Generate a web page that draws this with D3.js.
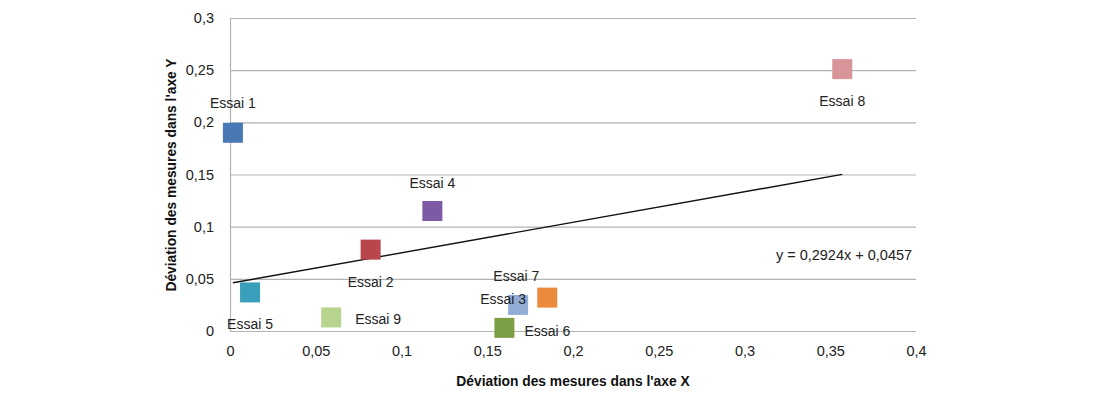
<!DOCTYPE html>
<html><head><meta charset="utf-8">
<script src="https://cdn.jsdelivr.net/npm/d3@7"></script>
<style>body{margin:0;background:#fff}svg{display:block}text{font-family:"Liberation Sans",Arial,sans-serif}</style>
</head><body><svg id="c" width="1112" height="406"></svg>
<script>
const names = ["Essai 1","Essai 2","Essai 3","Essai 4","Essai 5","Essai 6","Essai 7","Essai 8","Essai 9"];
const xValues = [0.0017,0.082,0.168,0.118,0.0117,0.160,0.185,0.357,0.059];
const yValues = [0.190,0.078,0.025,0.115,0.037,0.003,0.032,0.251,0.013];
const colors = ["#4a78b4","#b8464a","#93acd6","#7c5aa4","#3a9fba","#7c9f45","#eb8a3c","#d99499","#b7d48f"];
const xTicks = [0,0.05,0.1,0.15,0.2,0.25,0.3,0.35,0.4];
const yTicks = [0,0.05,0.1,0.15,0.2,0.25,0.3];
const slope = 0.2924, intercept = 0.0457;
const xTitle = "Déviation des mesures dans l'axe X";
const yTitle = "Déviation des mesures dans l'axe Y";
// label offsets (px) relative to marker centre
const labelOffsets = [[0,-28],[0,34],[-15,-5],[0,-27],[0,33],[43,4],[-31,-20],[0,33],[47,3]];

const svg = d3.select("#c");
const x = d3.scaleLinear().domain([0,0.4]).range([230,916]);
const y = d3.scaleLinear().domain([0,0.3]).range([331,18]);
const fmt = d => String(d).replace(".",",");
const FF = "'Liberation Sans',Arial,sans-serif";

// gridlines
svg.append("g").selectAll("line").data(yTicks).join("line")
  .attr("x1",x(0)).attr("x2",x(0.4)).attr("y1",d=>y(d)+0.5).attr("y2",d=>y(d)+0.5)
  .attr("stroke","#b3b3b3").attr("stroke-width",1.2);
svg.append("line").attr("x1",x(0)+0.5).attr("x2",x(0)+0.5).attr("y1",y(0.3)).attr("y2",y(0))
  .attr("stroke","#b3b3b3").attr("stroke-width",1.2);

const ya = svg.append("g").attr("transform",`translate(${x(0)},0)`)
  .call(d3.axisLeft(y).tickValues(yTicks).tickFormat(fmt).tickSize(0).tickPadding(16));
ya.select(".domain").remove();
ya.selectAll("text").attr("font-size",14.5).attr("fill","#222").style("font-family",FF);
const xa = svg.append("g").attr("transform",`translate(0,${y(0)})`)
  .call(d3.axisBottom(x).tickValues(xTicks).tickFormat(fmt).tickSize(0).tickPadding(15));
xa.select(".domain").remove();
xa.selectAll("text").attr("font-size",14.5).attr("fill","#222").style("font-family",FF);

// trendline
const xmin = d3.min(xValues), xmax = d3.max(xValues);
svg.append("line").attr("x1",x(xmin)).attr("y1",y(intercept+slope*xmin))
  .attr("x2",x(xmax)).attr("y2",y(intercept+slope*xmax))
  .attr("stroke","#111").attr("stroke-width",1.4);

const pts = names.map((n,i)=>({n,x:xValues[i],y:yValues[i],c:colors[i],o:labelOffsets[i]}));
svg.append("g").selectAll("rect").data(pts).join("rect")
  .attr("x",d=>x(d.x)-10).attr("y",d=>y(d.y)-10).attr("width",20).attr("height",20)
  .attr("fill",d=>d.c);
svg.append("g").selectAll("text").data(pts).join("text")
  .attr("x",d=>x(d.x)+d.o[0]).attr("y",d=>y(d.y)+d.o[1]).attr("text-anchor","middle")
  .attr("dominant-baseline","middle").attr("font-size",14).attr("fill","#222").text(d=>d.n);

svg.append("text").attr("x",844).attr("y",256).attr("text-anchor","middle").attr("dominant-baseline","middle")
  .attr("font-size",14.5).attr("fill","#222").text(`y = ${fmt(slope)}x + ${fmt(intercept)}`);

svg.append("text").attr("x",573).attr("y",382).attr("text-anchor","middle").attr("dominant-baseline","middle")
  .attr("font-size",13.8).attr("font-weight","bold").attr("fill","#111").text(xTitle);
svg.append("text").attr("transform","translate(172,175) rotate(-90)").attr("text-anchor","middle")
  .attr("dominant-baseline","middle").attr("font-size",13.8).attr("font-weight","bold").attr("fill","#111").text(yTitle);
</script></body></html>
